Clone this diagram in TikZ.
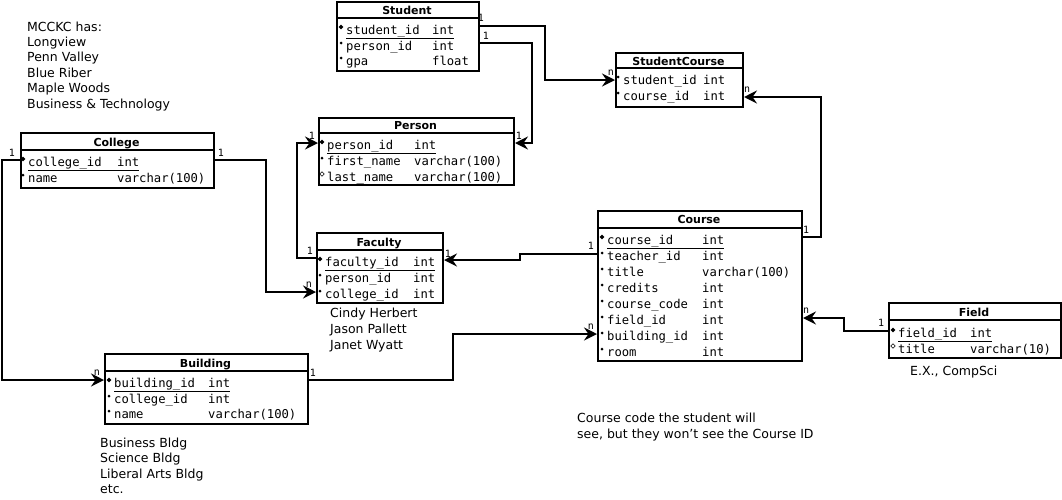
\documentclass[tikz,border=0pt]{standalone}
\usepackage{fontspec}
\setmainfont{DejaVu Sans}
\setmonofont{DejaVu Sans Mono}
\usetikzlibrary{arrows.meta}

\tikzset{
  tbl/.style={draw, line width=2pt, rectangle, inner sep=0pt, anchor=north west},
  sepline/.style={line width=2pt},
  ttl/.style={font=\bfseries\fontsize{11}{13}\selectfont, inner sep=0pt, anchor=base},
  row/.style={font=\ttfamily\fontsize{12.2}{14}\selectfont, inner sep=0pt, anchor=base west},
  note/.style={font=\fontsize{12.5}{15}\selectfont, inner sep=0pt, anchor=base west},
  card/.style={font=\ttfamily\fontsize{10}{11}\selectfont, inner sep=0pt},
  conn/.style={line width=2pt, line join=miter, -{Stealth[length=13pt, width=13pt, inset=4.5pt]}},
  pkm/.pic={\fill (-2.4,0) -- (0,-2.4) -- (2.4,0) -- (0,2.4) -- cycle;},
  fkm/.pic={\fill (0,0) circle (1.5);},
  nlm/.pic={\draw[line width=0.6pt] (-2.2,0) -- (0,-2.2) -- (2.2,0) -- (0,2.2) -- cycle;},
}

% plain attribute row: name, marker, x, baseline, column width, field, type
\newcommand\errow[7]{%
  \pic at ({#3-5},{#4-7}) {#2};
  \node[row] (#1) at (#3,#4) {\makebox[#5pt][l]{#6}#7};
}
% primary key row (underlined): name, x, baseline, column width, field, type
\newcommand\erkey[6]{%
  \pic at ({#2-5},{#3-7}) {pkm};
  \node[row] (#1) at (#2,#3) {\underline{\makebox[#4pt][l]{#5}#6}};
}

\begin{document}
\begin{tikzpicture}[x=1pt, y=-1pt]
\useasboundingbox (0,0) rectangle (1062,499);

% ---------- Student ----------
\node[tbl, minimum width=142pt, minimum height=69pt] (student) at (336,1) {};
\node[ttl] (student-t) at (407,14) {Student};
\draw[sepline] (336,18) -- (478,18);
\erkey{student-r1}{346}{34}{86}{student\_id}{int}
\errow{student-r2}{fkm}{346}{50}{86}{person\_id}{int}
\errow{student-r3}{fkm}{346}{65}{86}{gpa}{float}

% ---------- StudentCourse ----------
\node[tbl, minimum width=127pt, minimum height=54pt] (studentcourse) at (615,52) {};
\node[ttl] (studentcourse-t) at (678.5,65) {StudentCourse};
\draw[sepline] (615,68) -- (742,68);
\errow{studentcourse-r1}{fkm}{623}{84}{80}{student\_id}{int}
\errow{studentcourse-r2}{fkm}{623}{100}{80}{course\_id}{int}

% ---------- College ----------
\node[tbl, minimum width=193pt, minimum height=55pt] (college) at (20,132) {};
\node[ttl] (college-t) at (116.5,146) {College};
\draw[sepline] (20,150) -- (213,150);
\erkey{college-r1}{28}{166}{89}{college\_id}{int}
\errow{college-r2}{fkm}{28}{182}{89}{name}{varchar(100)}

% ---------- Person ----------
\node[tbl, minimum width=195pt, minimum height=67pt] (person) at (318,117) {};
\node[ttl] (person-t) at (415.5,129) {Person};
\draw[sepline] (318,133) -- (513,133);
\erkey{person-r1}{327}{149}{87}{person\_id}{int}
\errow{person-r2}{fkm}{327}{165}{87}{first\_name}{varchar(100)}
\errow{person-r3}{nlm}{327}{181}{87}{last\_name}{varchar(100)}

% ---------- Faculty ----------
\node[tbl, minimum width=126pt, minimum height=70pt] (faculty) at (316,232) {};
\node[ttl] (faculty-t) at (379,246) {Faculty};
\draw[sepline] (316,250) -- (442,250);
\erkey{faculty-r1}{325}{266}{88}{faculty\_id}{int}
\errow{faculty-r2}{fkm}{325}{282}{88}{person\_id}{int}
\errow{faculty-r3}{fkm}{325}{298}{88}{college\_id}{int}

% ---------- Course ----------
\node[tbl, minimum width=204pt, minimum height=150pt] (course) at (597,210) {};
\node[ttl] (course-t) at (699,223) {Course};
\draw[sepline] (597,228) -- (801,228);
\erkey{course-r1}{607}{244}{95}{course\_id}{int}
\errow{course-r2}{fkm}{607}{260}{95}{teacher\_id}{int}
\errow{course-r3}{fkm}{607}{276}{95}{title}{varchar(100)}
\errow{course-r4}{fkm}{607}{292}{95}{credits}{int}
\errow{course-r5}{fkm}{607}{308}{95}{course\_code}{int}
\errow{course-r6}{fkm}{607}{324}{95}{field\_id}{int}
\errow{course-r7}{fkm}{607}{340}{95}{building\_id}{int}
\errow{course-r8}{fkm}{607}{356}{95}{room}{int}

% ---------- Field ----------
\node[tbl, minimum width=172pt, minimum height=55pt] (field) at (888,302) {};
\node[ttl] (field-t) at (974,316) {Field};
\draw[sepline] (888,320) -- (1060,320);
\erkey{field-r1}{898}{337}{72}{field\_id}{int}
\errow{field-r2}{nlm}{898}{353}{72}{title}{varchar(10)}

% ---------- Building ----------
\node[tbl, minimum width=203pt, minimum height=70pt] (building) at (104,353) {};
\node[ttl] (building-t) at (205.5,367) {Building};
\draw[sepline] (104,371) -- (307,371);
\erkey{building-r1}{114}{387}{94}{building\_id}{int}
\errow{building-r2}{fkm}{114}{403}{94}{college\_id}{int}
\errow{building-r3}{fkm}{114}{418}{94}{name}{varchar(100)}

% ---------- relationships ----------
\draw[conn] (student.east |- 0,26) -| (545,80) -- (studentcourse.west |- 0,80);
\draw[conn] (student.east |- 0,43) -| (532,143) -- (person.east |- 0,143);
\draw[conn] (college.east |- 0,160) -| (266,292) -- (faculty.west |- 0,292);
\draw[conn] (college.west |- 0,160) -| (2,380) -- (building.west |- 0,380);
\draw[conn] (faculty.west |- 0,258) -| (297,143) -- (person.west |- 0,143);
\draw[conn] (course.west |- 0,254) -| (520,260) -- (faculty.east |- 0,260);
\draw[conn] (course.east |- 0,237) -| (821,97) -- (studentcourse.east |- 0,97);
\draw[conn] (field.west |- 0,331) -| (844,318) -- (course.east |- 0,318);
\draw[conn] (building.east |- 0,380) -| (453,334) -- (course.west |- 0,334);

% cardinalities
\node[card] (c-a) at (481,18) {1};
\node[card] (c-b) at (486,36) {1};
\node[card] (c-c) at (611,73) {n};
\node[card] (c-d) at (747,90) {n};
\node[card] (c-e) at (519,136) {1};
\node[card] (c-f) at (312,136) {1};
\node[card] (c-g) at (221,153) {1};
\node[card] (c-h) at (12,153) {1};
\node[card] (c-i) at (310,251) {1};
\node[card] (c-j) at (309,285) {n};
\node[card] (c-k) at (448,254) {1};
\node[card] (c-l) at (591,246) {1};
\node[card] (c-m) at (591,327) {n};
\node[card] (c-n) at (806,230) {1};
\node[card] (c-o) at (806,311) {n};
\node[card] (c-p) at (881,323) {1};
\node[card] (c-q) at (97,373) {n};
\node[card] (c-r) at (313,373) {1};

% ---------- notes ----------
\foreach \t [count=\i from 0] in {MCCKC has:, Longview, Penn Valley, Blue Riber, Maple Woods, Business \& Technology}
  \node[note] (campus-\i) at (27,{31+15.4*\i}) {\t};
\foreach \t [count=\i from 0] in {Cindy Herbert, Jason Pallett, Janet Wyatt}
  \node[note] (staff-\i) at (330,{317+16*\i}) {\t};
\foreach \t [count=\i from 0] in {Business Bldg, Science Bldg, Liberal Arts Bldg, etc.}
  \node[note] (bldg-\i) at (100,{447+15.5*\i}) {\t};
\node[note] (field-note) at (910,375) {E.X., CompSci};
\node[note] (code-note-1) at (577,422) {Course code the student will};
\node[note] (code-note-2) at (577,438) {see, but they won't see the Course ID};

\end{tikzpicture}
\end{document}
